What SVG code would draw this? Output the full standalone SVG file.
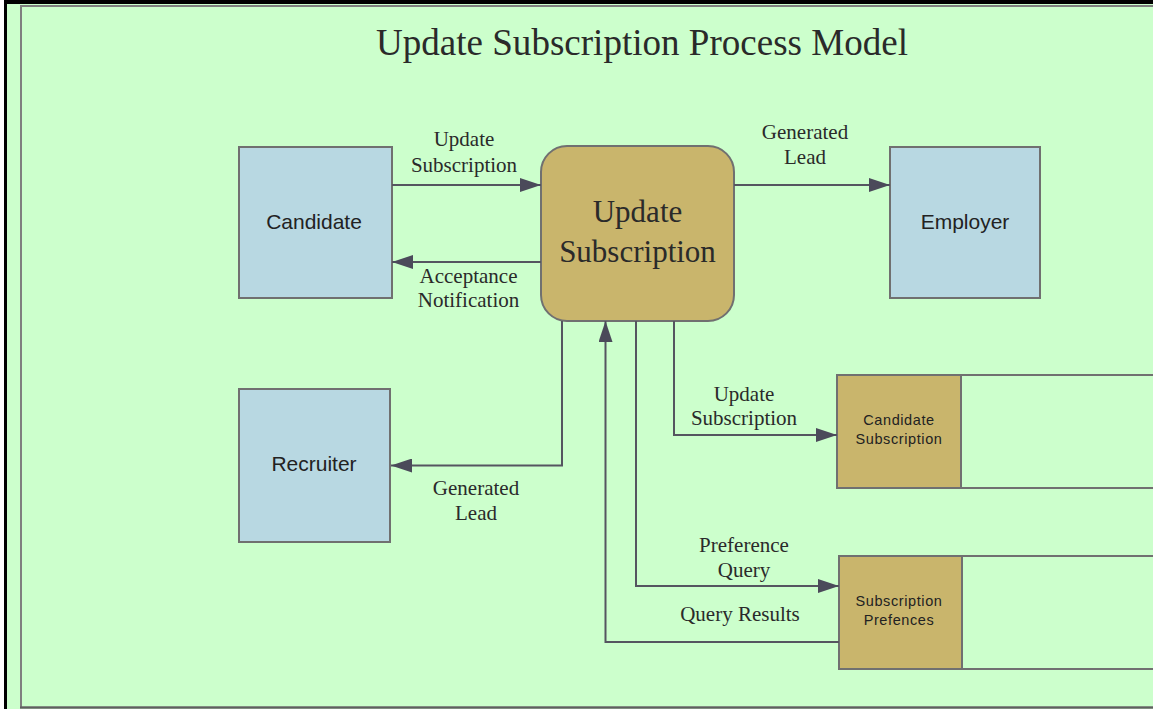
<svg xmlns="http://www.w3.org/2000/svg" width="1153" height="709" viewBox="0 0 1153 709">
  <defs>
    <style>
      .bg { fill: #CCFFCC; }
      .ext { fill: #B8D8E2; stroke: #707070; stroke-width: 2; }
      .proc { fill: #C9B56C; stroke: #707070; stroke-width: 2; }
      .ds { fill: #C9B56C; stroke: #707070; stroke-width: 2; }
      .dsline { stroke: #707070; stroke-width: 2; fill: none; }
      .flow { stroke: #555560; stroke-width: 2; fill: none; }
      .sans { font-family: "Liberation Sans", Arial, sans-serif; fill: #222; }
      .serif { font-family: "Liberation Serif", "Times New Roman", serif; fill: #2a2a2a; }
      .lbl { font-size: 21px; text-anchor: middle; }
      .node { font-size: 21px; text-anchor: middle; }
      .small { font-size: 14.5px; text-anchor: middle; letter-spacing: 0.6px; }
    </style>
    <marker id="arr" markerUnits="userSpaceOnUse" markerWidth="21" markerHeight="14" refX="21" refY="7" orient="auto">
      <path d="M0,0 L21,7 L0,14 z" fill="#4B4A5A"/>
    </marker>
  </defs>

  <!-- page background and frame -->
  <rect x="0" y="0" width="1153" height="709" fill="#FFFFFF"/>
  <rect x="7" y="0" width="1146" height="709" class="bg"/>
  <rect x="4" y="0" width="3" height="709" fill="#000"/>
  <rect x="4" y="0" width="1149" height="4" fill="#000"/>
  <rect x="21" y="6" width="1150" height="701.5" class="bg" stroke="#7f7f7f" stroke-width="2"/>
  <line x1="20" y1="707.5" x2="1153" y2="707.5" stroke="#5f5f5f" stroke-width="2"/>

  <!-- title -->
  <text x="642" y="55" class="serif" font-size="38" text-anchor="middle" textLength="532" lengthAdjust="spacingAndGlyphs">Update Subscription Process Model</text>

  <!-- nodes -->
  <g id="candidate">
    <rect x="239" y="147" width="153" height="151" class="ext"/>
    <text x="314" y="228.5" class="sans node">Candidate</text>
  </g>
  <g id="update-subscription">
    <rect x="541" y="146" width="193" height="175" rx="26" ry="26" class="proc"/>
    <text x="637.5" y="222" class="serif" font-size="31" text-anchor="middle">Update</text>
    <text x="637.5" y="262" class="serif" font-size="31" text-anchor="middle">Subscription</text>
  </g>
  <g id="employer">
    <rect x="890" y="147" width="150" height="151" class="ext"/>
    <text x="965" y="228.5" class="sans node">Employer</text>
  </g>
  <g id="recruiter">
    <rect x="239" y="389" width="151" height="153" class="ext"/>
    <text x="314" y="471" class="sans node">Recruiter</text>
  </g>
  <g id="candidate-subscription">
    <line x1="961" y1="375" x2="1153" y2="375" class="dsline"/>
    <line x1="961" y1="488" x2="1153" y2="488" class="dsline"/>
    <rect x="837" y="375" width="124" height="113" class="ds"/>
    <text x="899" y="425" class="sans small">Candidate</text>
    <text x="899" y="444" class="sans small">Subscription</text>
  </g>
  <g id="subscription-prefences">
    <line x1="962" y1="556" x2="1153" y2="556" class="dsline"/>
    <line x1="962" y1="669" x2="1153" y2="669" class="dsline"/>
    <rect x="839" y="556" width="123" height="113" class="ds"/>
    <text x="899" y="606" class="sans small">Subscription</text>
    <text x="899" y="625" class="sans small">Prefences</text>
  </g>

  <!-- connectors -->
  <g id="connectors">
    <path d="M392,185 H541" class="flow" marker-end="url(#arr)"/>
    <path d="M541,262 H392" class="flow" marker-end="url(#arr)"/>
    <path d="M734,185 H890" class="flow" marker-end="url(#arr)"/>
    <path d="M562,321 V465.5 H391" class="flow" marker-end="url(#arr)"/>
    <path d="M839,642 H605.5 V321" class="flow" marker-end="url(#arr)"/>
    <path d="M636,321 V586 H839" class="flow" marker-end="url(#arr)"/>
    <path d="M674,321 V435 H837" class="flow" marker-end="url(#arr)"/>

    <text x="464" y="145.5" class="serif lbl">Update</text>
    <text x="464" y="171.5" class="serif lbl">Subscription</text>
    <text x="468.5" y="282.5" class="serif lbl">Acceptance</text>
    <text x="468.5" y="306.5" class="serif lbl">Notification</text>
    <text x="805" y="139" class="serif lbl">Generated</text>
    <text x="805" y="164" class="serif lbl">Lead</text>
    <text x="476" y="495" class="serif lbl">Generated</text>
    <text x="476" y="520" class="serif lbl">Lead</text>
    <text x="744" y="400.5" class="serif lbl">Update</text>
    <text x="744" y="425" class="serif lbl">Subscription</text>
    <text x="744" y="552" class="serif lbl">Preference</text>
    <text x="744" y="577" class="serif lbl">Query</text>
    <text x="740" y="621" class="serif lbl">Query Results</text>
  </g>
</svg>
